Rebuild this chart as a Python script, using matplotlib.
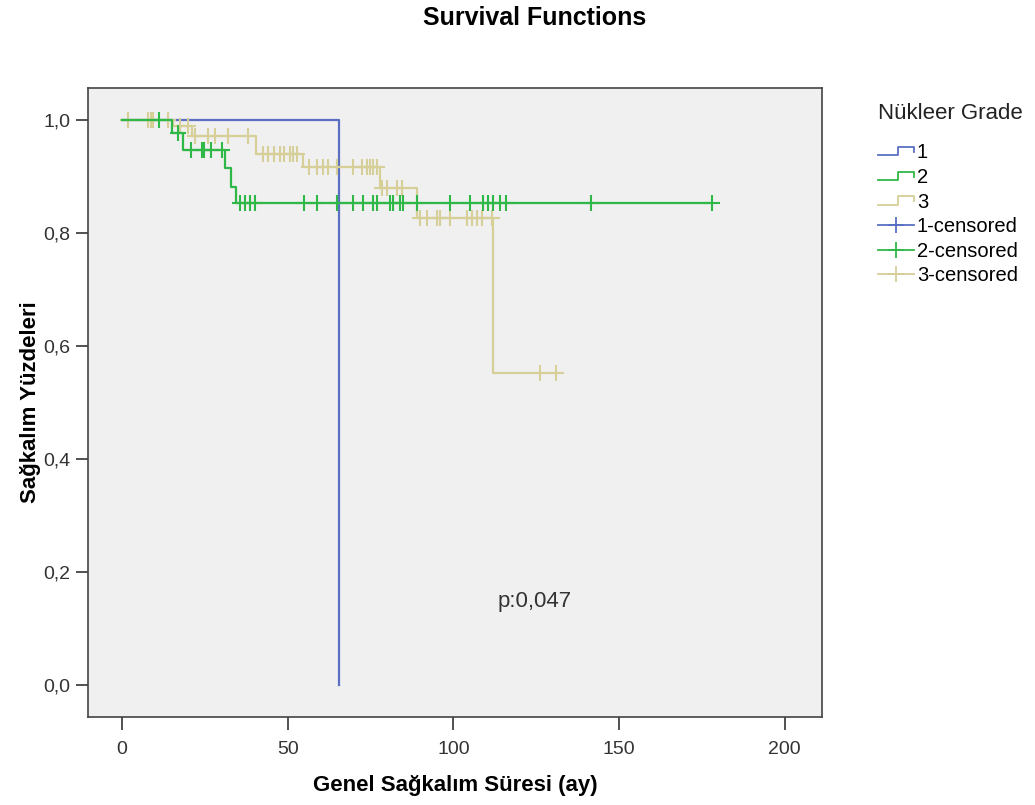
import numpy as np
import matplotlib
matplotlib.use('Agg')
import matplotlib.pyplot as plt
from matplotlib.lines import Line2D
from matplotlib.legend_handler import HandlerBase

plt.rcParams['font.family'] = ['Liberation Sans', 'DejaVu Sans']

# Kaplan-Meier steps (event time, survival after it)
g1_times = [0, 65.5]
g1_surv = [1.0, 0.0]
g1_end = 65.5
g1_cens = []

g2_times = [0, 15, 18.5, 31, 33, 34.5]
g2_surv = [1.0, 0.977, 0.947, 0.915, 0.881, 0.852]
g2_end = 178
g2_cens = [11, 17, 20.8, 24, 24.8, 26.8, 30.2, 35.5, 37, 38.5, 40, 55, 58.8, 65,
           69.7, 72.7, 75.7, 77, 80.8, 81.7, 83.9, 84.8, 89, 99, 105, 109, 110.5,
           112, 114, 115.8, 141.5, 178]

g3_times = [0, 15.4, 21.2, 40.5, 54.7, 77.8, 89, 112]
g3_surv = [1.0, 0.989, 0.971, 0.939, 0.916, 0.880, 0.827, 0.552]
g3_end = 132
g3_cens = [1.8, 7.8, 8.7, 9.4, 14, 17.5, 20, 22, 26, 28, 32, 38, 42.5, 44, 46,
           47.7, 49, 50.7, 51.6, 52.8, 56.5, 58.8, 60.6, 62, 65, 69.7, 72.4, 74,
           74.8, 75.7, 77, 78.4, 80, 83, 84.5, 90, 92, 95, 96, 99, 104, 105.6, 107,
           108.6, 111.6, 126, 131]

groups = ['1', '2', '3']
colors = ['#5a6fc2', '#2fb847', '#d6cf98']

data = [(g1_times, g1_surv, g1_end, g1_cens),
        (g2_times, g2_surv, g2_end, g2_cens),
        (g3_times, g3_surv, g3_end, g3_cens)]


def surv_at(times, surv, t):
    i = np.searchsorted(times, t, side='right') - 1
    return np.asarray(surv)[i]


class HandlerStep(HandlerBase):
    def create_artists(self, legend, orig_handle, xdescent, ydescent, width,
                       height, fontsize, trans):
        x0, y0 = -xdescent, -ydescent
        xs = [x0, x0 + 0.55 * width, x0 + 0.55 * width, x0 + width, x0 + width]
        ys = [y0 + 0.2 * height, y0 + 0.2 * height, y0 + 0.8 * height,
              y0 + 0.8 * height, y0 + 0.45 * height]
        ln = Line2D(xs, ys, color=orig_handle.get_color(), lw=1.3, transform=trans)
        return [ln]


fig = plt.figure(figsize=(10.35, 8.05), dpi=100)
ax = fig.add_axes([0.085, 0.109, 0.709, 0.782])
ax.set_facecolor('#f0f0f0')

zorders = [2, 4, 3]
for (times, surv, end, cens), c, z in zip(data, colors, zorders):
    xs = list(times) + [end]
    ys = list(surv) + [surv[-1]]
    ax.step(xs, ys, where='post', color=c, lw=1.6, zorder=z)
    if cens:
        cy = surv_at(times, surv, np.array(cens))
        ax.plot(cens, cy, ls='none', marker='+', ms=11, mew=1.5, color=c, zorder=z)

ax.set_xlim(-10.3, 211.2)
ax.set_ylim(-0.058, 1.057)
ax.set_xticks([0, 50, 100, 150, 200])
ax.set_yticks([0, 0.2, 0.4, 0.6, 0.8, 1.0])
ax.set_yticklabels(['0,0', '0,2', '0,4', '0,6', '0,8', '1,0'])
ax.tick_params(direction='out', length=9, width=1.2, colors='#333333',
               labelsize=14, labelcolor='#333333')
ax.tick_params(axis='x', pad=8)
for s in ax.spines.values():
    s.set_color('#444444')
    s.set_linewidth(1.2)

ax.set_xlabel('Genel Sağkalım Süresi (ay)', fontsize=16, fontweight='bold',
              labelpad=12)
ax.set_ylabel('Sağkalım Yüzdeleri', fontsize=16, fontweight='bold', labelpad=2)
fig.text(0.517, 0.978, 'Survival Functions', fontsize=18, fontweight='bold',
         ha='center', va='center')
ax.text(113.4, 0.147, 'p:0,047', fontsize=16, color='#333333', va='center')

fig.text(0.848, 0.859, 'Nükleer Grade', fontsize=16, color='#222222',
         ha='left', va='center')
handles = [Line2D([], [], color=c) for c in colors]
handles += [Line2D([], [], color=c, marker='+', ms=12, mew=1.3, lw=1.3) for c in colors]
labels = groups + [g + '-censored' for g in groups]
leg = ax.legend(handles, labels, loc='upper left', bbox_to_anchor=(0.848, 0.822),
                bbox_transform=fig.transFigure, frameon=False,
                fontsize=14.5, handlelength=1.8, handletextpad=0.15,
                labelspacing=0.28, borderpad=0, borderaxespad=0,
                handler_map={h: HandlerStep() for h in handles[:3]})

fig.savefig('out.png', dpi=100)
